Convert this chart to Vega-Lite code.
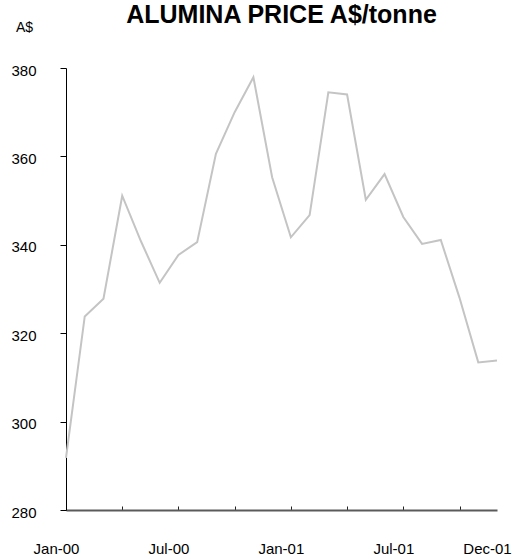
{
  "$schema": "https://vega.github.io/schema/vega-lite/v6.json",
  "autosize": "none",
  "width": 431,
  "height": 442,
  "padding": {"left": 66, "top": 68, "right": 15, "bottom": 49},
  "background": "white",
  "title": {
    "text": "ALUMINA PRICE A$/tonne",
    "anchor": "middle",
    "frame": "group",
    "font": "Liberation Sans",
    "fontSize": 25,
    "fontWeight": "bold",
    "color": "black",
    "baseline": "alphabetic",
    "offset": -28
  },
  "config": {
    "view": {"stroke": null},
    "axis": {"grid": false, "labelFont": "Liberation Sans", "labelFontSize": 15, "labelColor": "black", "titleFont": "Liberation Sans", "titleFontWeight": "normal", "titleColor": "black"}
  },
  "data": {
    "values": [
      {"month": "Jan-00", "price": 291.8},
      {"month": "Feb-00", "price": 323.8},
      {"month": "Mar-00", "price": 327.8},
      {"month": "Apr-00", "price": 351.1},
      {"month": "May-00", "price": 340.8},
      {"month": "Jun-00", "price": 331.4},
      {"month": "Jul-00", "price": 337.7},
      {"month": "Aug-00", "price": 340.6},
      {"month": "Sep-00", "price": 360.6},
      {"month": "Oct-00", "price": 370.0},
      {"month": "Nov-00", "price": 377.9},
      {"month": "Dec-00", "price": 355.3},
      {"month": "Jan-01", "price": 341.7},
      {"month": "Feb-01", "price": 346.7},
      {"month": "Mar-01", "price": 374.5},
      {"month": "Apr-01", "price": 374.0},
      {"month": "May-01", "price": 350.2},
      {"month": "Jun-01", "price": 356.0},
      {"month": "Jul-01", "price": 346.3},
      {"month": "Aug-01", "price": 340.2},
      {"month": "Sep-01", "price": 341.1},
      {"month": "Oct-01", "price": 328.0},
      {"month": "Nov-01", "price": 313.4},
      {"month": "Dec-01", "price": 313.8}
    ]
  },
  "mark": {"type": "line", "color": "#c4c4c4", "strokeWidth": 2},
  "encoding": {
    "x": {
      "field": "month",
      "type": "ordinal",
      "sort": null,
      "scale": {"type": "point", "padding": 0},
      "axis": {
        "title": null,
        "values": ["Jan-00", "Apr-00", "Jul-00", "Oct-00", "Jan-01", "Apr-01", "Jul-01", "Oct-01", "Dec-01"],
        "labelExpr": "indexof(['Jan-00','Jul-00','Jan-01','Jul-01','Dec-01'], datum.value) >= 0 ? datum.value : ''",
        "labelAngle": 0,
        "labelOffset": -10,
        "labelPadding": 35,
        "domainColor": "#5a5a5a",
        "domainWidth": 2,
        "tickColor": "#222222",
        "tickSize": -4,
        "tickOpacity": {"condition": {"test": "datum.value == 'Dec-01'", "value": 0}, "value": 1}
      }
    },
    "y": {
      "field": "price",
      "type": "quantitative",
      "scale": {"domain": [280, 380], "nice": false, "zero": false},
      "axis": {
        "title": "A$",
        "titleAngle": 0,
        "titleFontSize": 14,
        "titleAlign": "center",
        "titleBaseline": "middle",
        "titleX": -42,
        "titleY": -41,
        "values": [280, 300, 320, 340, 360, 380],
        "domainColor": "black",
        "tickColor": "black",
        "tickSize": 6,
        "labelPadding": 24,
        "labelOffset": 2
      }
    }
  }
}
